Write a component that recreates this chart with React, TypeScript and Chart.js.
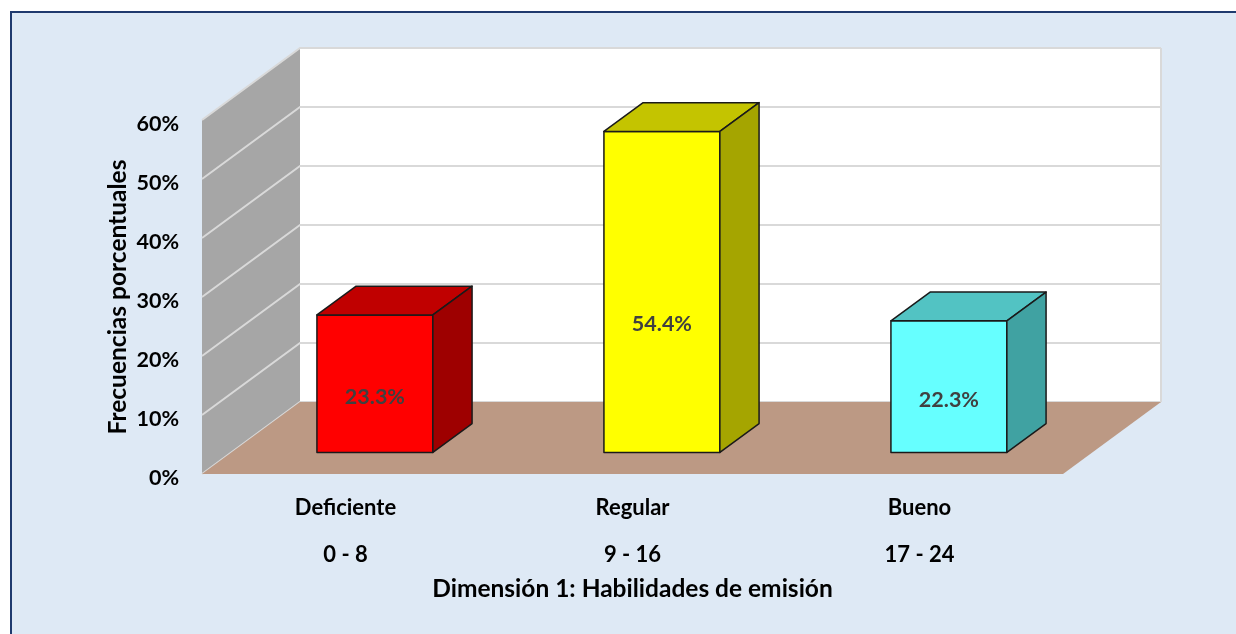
import React, { useEffect, useRef } from "react";
import { Chart, registerables } from "chart.js";

Chart.register(...registerables);

const categories = ["Deficiente", "Regular", "Bueno"];
const ranges = ["0 - 8", "9 - 16", "17 - 24"];
const percentages = [23.3, 54.4, 22.3];
const yMin = 0;
const yMax = 60;
const yStep = 10;
const yTitle = "Frecuencias porcentuales";
const xTitle = "Dimensión 1: Habilidades de emisión";

const frontColors = ["#FF0000", "#FFFF00", "#66FFFF"];
const topColors = ["#C00000", "#C4C400", "#52C3C3"];
const sideColors = ["#9E0000", "#A5A500", "#40A2A2"];

const W = 1236;
const H = 634;
const DX = 98;
const DY = 72;
const FONT = "Lato, 'Noto Sans', sans-serif";

const threeD = {
  id: "threeD",
  beforeDraw(chart: any) {
    const ctx = chart.ctx;
    ctx.save();
    ctx.fillStyle = "#FFFFFF";
    ctx.fillRect(0, 0, W, H);
    ctx.fillStyle = "#DEE9F5";
    ctx.fillRect(10, 11, W - 10, H - 11);
    ctx.strokeStyle = "#1F3A6E";
    ctx.lineWidth = 2;
    ctx.beginPath();
    ctx.moveTo(W, 12);
    ctx.lineTo(11, 12);
    ctx.lineTo(11, H);
    ctx.stroke();
    ctx.restore();
  },
  beforeDatasetsDraw(chart: any) {
    const ctx = chart.ctx;
    const { left, right, top, bottom } = chart.chartArea;
    const ys = chart.scales.y;
    ctx.save();
    ctx.fillStyle = "#FFFFFF";
    ctx.fillRect(left + DX, top - DY, right - left, bottom - top);
    ctx.fillStyle = "#A6A6A6";
    ctx.beginPath();
    ctx.moveTo(left, top);
    ctx.lineTo(left + DX, top - DY);
    ctx.lineTo(left + DX, bottom - DY);
    ctx.lineTo(left, bottom);
    ctx.closePath();
    ctx.fill();
    ctx.strokeStyle = "#D9D9D9";
    ctx.lineWidth = 2;
    for (let v = yMin; v <= yMax; v += yStep) {
      const yf = ys.getPixelForValue(v);
      ctx.beginPath();
      ctx.moveTo(left, yf);
      ctx.lineTo(left + DX, yf - DY);
      ctx.lineTo(right + DX, yf - DY);
      ctx.stroke();
    }
    ctx.beginPath();
    ctx.moveTo(right + DX, top - DY);
    ctx.lineTo(right + DX, bottom - DY);
    ctx.stroke();
    ctx.fillStyle = "#BC9984";
    ctx.beginPath();
    ctx.moveTo(left, bottom);
    ctx.lineTo(left + DX, bottom - DY);
    ctx.lineTo(right + DX, bottom - DY);
    ctx.lineTo(right, bottom);
    ctx.closePath();
    ctx.fill();
    ctx.restore();
  },
  afterDatasetsDraw(chart: any) {
    const ctx = chart.ctx;
    const ys = chart.scales.y;
    const meta = chart.getDatasetMeta(0);
    ctx.save();
    ctx.lineWidth = 1.5;
    ctx.strokeStyle = "#1A1A1A";
    ctx.lineJoin = "round";
    meta.data.forEach((el: any, i: number) => {
      const w = el.width;
      const ox = DX * 0.3;
      const oy = DY * 0.3;
      const bx = DX * 0.4;
      const by = DY * 0.4;
      const x0 = el.x - w / 2 + ox;
      const x1 = el.x + w / 2 + ox;
      const yT = el.y - oy;
      const yB = el.base - oy;
      ctx.fillStyle = frontColors[i];
      ctx.beginPath();
      ctx.rect(x0, yT, w, yB - yT);
      ctx.fill();
      ctx.stroke();
      ctx.fillStyle = topColors[i];
      ctx.beginPath();
      ctx.moveTo(x0, yT);
      ctx.lineTo(x0 + bx, yT - by);
      ctx.lineTo(x1 + bx, yT - by);
      ctx.lineTo(x1, yT);
      ctx.closePath();
      ctx.fill();
      ctx.stroke();
      ctx.fillStyle = sideColors[i];
      ctx.beginPath();
      ctx.moveTo(x1, yT);
      ctx.lineTo(x1 + bx, yT - by);
      ctx.lineTo(x1 + bx, yB - by);
      ctx.lineTo(x1, yB);
      ctx.closePath();
      ctx.fill();
      ctx.stroke();
      const v = percentages[i];
      const ly = ys.getPixelForValue(v * 0.4) - oy;
      ctx.fillStyle = "#404040";
      ctx.font = `bold 21.5px ${FONT}`;
      ctx.textAlign = "center";
      ctx.textBaseline = "middle";
      ctx.fillText(v.toFixed(1) + "%", (x0 + x1) / 2, ly);
    });
    ctx.restore();
  },
};

export default function App() {
  const ref = useRef<HTMLCanvasElement | null>(null);
  useEffect(() => {
    if (!ref.current) return;
    const chart = new Chart(ref.current, {
      type: "bar",
      data: {
        labels: categories.map((c, i) => [c, ranges[i]]),
        datasets: [
          {
            data: percentages,
            backgroundColor: "rgba(0,0,0,0)",
            borderWidth: 0,
            barPercentage: 0.404,
            categoryPercentage: 1,
          },
        ],
      },
      options: {
        responsive: false,
        animation: false,
        events: [],
        layout: { padding: { top: 120, right: 173, left: 0, bottom: 0 } },
        plugins: { legend: { display: false }, tooltip: { enabled: false } },
        scales: {
          x: {
            grid: { display: false, drawTicks: false },
            border: { display: false },
            ticks: {
              color: "#000",
              padding: 10,
              font: { family: FONT, size: 22, weight: "bold", lineHeight: "47px" },
            },
            title: {
              display: true,
              text: xTitle,
              color: "#000",
              font: { family: FONT, size: 24.5, weight: "bold", lineHeight: 1.2 },
              padding: { top: 0, bottom: 30 },
            },
            afterFit: (s: any) => {
              s.height = 160;
            },
          },
          y: {
            min: yMin,
            max: yMax,
            grid: { display: false, drawTicks: false },
            border: { display: false },
            ticks: {
              stepSize: yStep,
              color: "#000",
              padding: 23,
              labelOffset: 4,
              font: { family: FONT, size: 21.5, weight: "bold" },
              callback: (v: any) => v + "%",
            },
            title: {
              display: true,
              text: yTitle,
              color: "#000",
              font: { family: FONT, size: 24.5, weight: "bold", lineHeight: 1.2 },
              padding: { top: 103, bottom: 0 },
            },
            afterFit: (s: any) => {
              s.width = 202;
            },
          },
        },
      },
      plugins: [threeD],
    });
    return () => chart.destroy();
  }, []);
  return (
    <div style={{ position: "fixed", left: 0, top: 0, width: W, height: H }}>
      <canvas ref={ref} width={W} height={H} style={{ display: "block" }} />
    </div>
  );
}
